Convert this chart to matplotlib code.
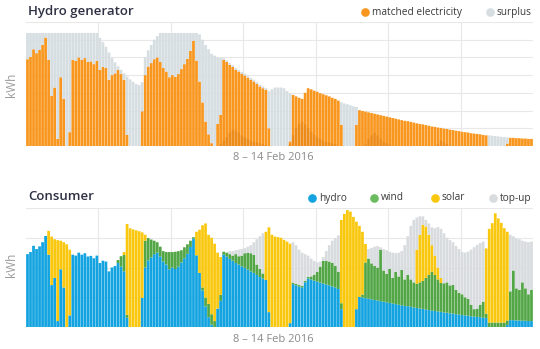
import matplotlib
matplotlib.use("Agg")
import matplotlib.pyplot as plt
from matplotlib.lines import Line2D
import numpy as np

plt.rcParams['font.family'] = ['Open Sans', 'DejaVu Sans']

# hourly values, 8-14 Feb 2016 (kWh), one row per day
matched = [
    2.45, 2.52, 2.73, 2.62, 2.71, 2.85, 3.06, 2.43, 1.41, 1.65, 0.2, 1.94, 1.33, 0, 0.39, 2.43, 2.4, 2.5, 2.43, 2.48, 2.37, 2.39, 2.31, 2.4,
    2.15, 2.23, 2.2, 1.87, 2.0, 2.05, 2.15, 2.03, 1.87, 0.31, 0, 0, 0, 0, 0.98, 2.0, 2.24, 2.34, 2.45, 2.5, 2.37, 2.2, 2.1, 1.94,
    2.0, 1.95, 2.03, 2.17, 2.31, 2.46, 2.69, 2.97, 2.41, 1.82, 1.23, 0.69, 0.33, 0.08, 0, 0.62, 0.88, 2.43, 2.37, 2.29, 2.23, 2.15, 2.1, 2.04,
    1.99, 1.93, 1.87, 1.82, 1.75, 1.68, 1.63, 1.58, 0.5, 0, 0, 0, 0, 0, 0, 0.13, 1.44, 1.4, 1.36, 1.33, 1.5, 1.63, 1.6, 1.56,
    1.53, 1.49, 1.46, 1.43, 1.4, 1.36, 1.33, 1.28, 0.6, 0, 0, 0, 0, 0.6, 1.01, 0.99, 0.97, 0.95, 0.93, 0.91, 0.89, 0.87, 0.85, 0.83,
    0.81, 0.79, 0.77, 0.75, 0.73, 0.71, 0.7, 0.68, 0.66, 0.64, 0.62, 0.61, 0.59, 0.57, 0.55, 0.54, 0.52, 0.51, 0.49, 0.48, 0.46, 0.45, 0.43, 0.42,
    0.4, 0.39, 0.38, 0.36, 0.35, 0.34, 0.33, 0.31, 0.3, 0, 0, 0, 0, 0, 0, 0.07, 0.23, 0.23, 0.22, 0.22, 0.21, 0.21, 0.2, 0.2,
]
surplus = [
    0.74, 0.67, 0.46, 0.57, 0.48, 0.34, 0.13, 0.76, 1.78, 1.54, 2.99, 1.25, 1.86, 3.19, 2.8, 0.76, 0.79, 0.69, 0.76, 0.71, 0.82, 0.8, 0.88, 0.79,
    0.9, 0.7, 0.6, 0.77, 0.48, 0.31, 0.1, 0.12, 0.18, 1.65, 1.88, 1.81, 1.75, 1.72, 0.82, 0.5, 0.46, 0.51, 0.55, 0.6, 0.82, 0.99, 1.09, 1.25,
    1.19, 1.24, 1.16, 1.02, 0.88, 0.73, 0.5, 0.22, 0.78, 1.33, 1.77, 2.16, 2.4, 2.52, 2.55, 1.88, 1.61, 0.05, 0.05, 0.05, 0.05, 0.05, 0.05, 0.05,
    0.05, 0.05, 0.05, 0.05, 0.05, 0.05, 0.05, 0.05, 1.05, 1.6, 1.65, 1.65, 1.65, 1.63, 1.55, 1.35, 0, 0, 0, 0, 0, 0, 0, 0,
    0, 0, 0, 0, 0, 0, 0, 0, 0.63, 1.2, 1.18, 1.15, 1.12, 0.5, 0, 0, 0, 0, 0, 0, 0, 0, 0, 0,
    0, 0, 0, 0, 0, 0, 0, 0, 0, 0, 0, 0, 0, 0, 0, 0, 0, 0, 0, 0, 0, 0, 0, 0,
    0, 0, 0, 0, 0, 0, 0, 0, 0, 0.3, 0.29, 0.28, 0.27, 0.26, 0.25, 0.17, 0, 0, 0, 0, 0, 0, 0, 0,
]
# darker band where generator bars overlap
overlap = [
    0] * 48 + [
    0, 0, 0, 0, 0, 0, 0, 0, 0, 0, 0, 0, 0, 0, 0, 0, 0.05, 0.15, 0.25, 0.38, 0.45, 0.43, 0.38, 0.3,
    0.25, 0.2, 0.15, 0.12, 0.1, 0.08, 0.05, 0.03, 0, 0, 0, 0, 0, 0, 0, 0.05, 0.3, 0.5, 0.62, 0.68, 0.6, 0.5, 0.4, 0.32,
    0.25, 0.2, 0.15, 0.12, 0.1, 0.07, 0.05, 0, 0, 0, 0, 0, 0, 0, 0, 0, 0.05, 0.2, 0.3, 0.37, 0.3, 0.2, 0.12, 0.08,
    0.04, 0, 0, 0, 0, 0, 0, 0, 0, 0, 0, 0, 0, 0, 0, 0, 0.05, 0.15, 0.1, 0.05, 0, 0, 0, 0,
] + [0] * 24

# consumer side: hydro share is the generator's matched output
hydro = matched
wind = [
    0] * 24 + [
    0, 0, 0, 0, 0, 0, 0.1, 0.35, 0.55, 0.1, 0, 0, 0, 0, 0, 0.9, 0.75, 0.6, 0.45, 0.35, 0.33, 0.35, 0.42, 0.58,
    0.52, 0.58, 0.52, 0.41, 0.37, 0.32, 0.21, 0.05, 0, 0, 0.1, 0.3, 0.45, 0.35, 0.2, 0, 0.2, 0.1, 0.13, 0.16, 0.17, 0.3, 0.28, 0.36,
    0.49, 0.57, 0.61, 0.6, 0.35, 0.27, 0.17, 0, 0, 0, 0, 0, 0, 0, 0, 0, 0.05, 0.05, 0.05, 0.05, 0.05, 0.05, 0.1, 0.2,
    0.33, 0.54, 0.76, 0.8, 0.8, 0.8, 0.72, 0.58, 0.2, 0, 0, 0, 0, 0, 0, 0.1, 1.2, 1.35, 1.21, 1.14, 1.11, 1.73, 1.05, 0.96,
    1.14, 0.86, 1.08, 0.95, 1.19, 0.89, 1.05, 0.92, 0.84, 0.81, 0.88, 0.94, 1.06, 1.18, 1.31, 1.21, 1.08, 0.97, 0.98, 1.02, 0.94, 0.97, 0.82, 0.73,
    0.7, 0.61, 0.57, 0.39, 0.25, 0.28, 0.42, 0.54, 0.15, 0.15, 0.15, 0.15, 0.15, 0.15, 0.15, 0.15, 0.97, 1.67, 1.08, 1.03, 1.29, 1.09, 0.9, 1.05,
]
solar = [
    0, 0, 0, 0, 0, 0, 0, 0.8, 1.63, 1.3, 2.72, 0.96, 1.52, 2.78, 2.21, 0, 0, 0, 0, 0, 0, 0, 0, 0,
    0, 0, 0, 0, 0, 0, 0, 0, 0.1, 3.05, 3.32, 3.28, 3.25, 3.22, 2.2, 0.2, 0, 0, 0, 0, 0, 0, 0, 0,
    0, 0, 0, 0, 0, 0, 0, 0, 0.79, 1.45, 2.09, 2.49, 2.32, 2.57, 2.6, 1.88, 1.27, 0, 0, 0, 0, 0, 0, 0,
    0, 0, 0, 0, 0, 0, 0, 1.62, 2.85, 3.1, 3.04, 3.02, 3.0, 2.93, 2.87, 2.67, 0, 0, 0, 0, 0, 0, 0, 0,
    0, 0, 0, 0, 0, 0, 0, 0, 2.8, 3.8, 3.93, 3.88, 3.7, 2.94, 2.39, 2.11, 0.62, 0, 0, 0, 0, 0, 0, 0,
    0, 0, 0, 0, 0, 0, 0, 0, 0, 1.15, 1.6, 1.88, 1.73, 1.35, 0.89, 0.65, 0.4, 0.17, 0, 0, 0, 0, 0, 0,
    0, 0, 0, 0, 0, 0, 0, 0, 2.19, 3.15, 3.34, 3.67, 3.5, 3.35, 3.17, 2.98, 0, 0, 0, 0, 0, 0, 0, 0,
]
topup = [
    0] * 48 + [
    0, 0, 0, 0, 0, 0, 0, 0, 0, 0, 0, 0, 0, 0, 0, 0, 0, 0, 0, 0.1, 0.15, 0.13, 0.22, 0.22,
    0.17, 0.2, 0.27, 0.43, 0.85, 1.1, 1.35, 0, 0, 0, 0, 0, 0, 0, 0, 0, 1.36, 1.3, 1.19, 1.12, 0.9, 0.72, 0.6, 0.46,
    0.31, 0.17, 0.13, 0.32, 0.55, 0.74, 0.93, 1.22, 0, 0, 0, 0, 0, 0, 0, 0, 0, 0.32, 0.52, 0.65, 0.72, 0.08, 0.72, 0.79,
    0.58, 0.85, 0.63, 0.8, 0.63, 1.15, 1.3, 1.8, 2.1, 1.08, 0.62, 0.29, 0.22, 0.38, 0.6, 0.92, 1.36, 1.65, 1.68, 1.5, 1.52, 1.43, 1.47, 1.47,
    1.42, 1.5, 1.58, 1.85, 2.08, 2.14, 2.07, 2.02, 0, 0, 0, 0, 0, 0, 0, 0, 1.9, 1.15, 1.68, 1.7, 1.4, 1.57, 1.75, 1.62,
]

date_label = "8 – 14 Feb 2016"

ORANGE = '#f8961e'
SURPLUS = '#d6dee2'
BLUE = '#12a3e0'
GREEN = '#52a646'
YELLOW = '#f9c80e'
TOPUP = '#d8dcde'
GRID = '#e8e8e8'
TITLE = '#2d3142'
MUTED = '#9a9a9a'

hours = np.arange(len(matched))
W = 0.9

fig = plt.figure(figsize=(5.40, 3.49), dpi=100)
ax1 = fig.add_axes([0.0481, 0.5817, 0.9389, 0.3553])
ax2 = fig.add_axes([0.0481, 0.0630, 0.9389, 0.3410])


def style_axes(ax, ymax, step):
    ax.set_xlim(-0.5, len(hours) - 0.5)
    ax.set_ylim(0, ymax)
    for y in np.arange(step, ymax + 1e-6, step):
        ax.axhline(y, color=GRID, lw=0.8, zorder=0)
    for d in range(24, len(hours), 24):
        ax.axvline(d - 0.5, color=GRID, lw=0.8, zorder=0)
    for s in ax.spines.values():
        s.set_visible(False)
    ax.set_xticks([])
    ax.set_yticks([])


def stack(ax, series, colors):
    bottom = np.zeros(len(hours))
    for vals, c in zip(series, colors):
        vals = np.asarray(vals, dtype=float)
        bars = ax.bar(hours, vals, W, bottom=bottom, color=c, linewidth=0, zorder=2)
        for b in bars:
            b.set_snap(False)
        bottom += vals


def legend(y, items):
    for x, label, c in items:
        fig.add_artist(Line2D([x / 540], [1 - y / 349], marker='o', ms=5.2, color=c,
                              lw=0, transform=fig.transFigure))
        fig.text((x + 7) / 540, 1 - y / 349, label, fontsize=7.3, color='#3a3a3a',
                 va='center', ha='left')


# generator
style_axes(ax1, 3.5, 0.5)
stack(ax1, [matched, surplus], [ORANGE, SURPLUS])
shade = ax1.bar(hours, overlap, W, color='#c8650a', alpha=0.22, linewidth=0, zorder=3)
for b in shade:
    b.set_snap(False)

# consumer
style_axes(ax2, 4.0, 1.0)
stack(ax2, [hydro, wind, solar, topup], [BLUE, GREEN, YELLOW, TOPUP])

fig.text(28 / 540, 1 - 12 / 349, "Hydro generator", fontsize=9.5, fontweight='semibold',
         color=TITLE, va='center', ha='left')
fig.text(28 / 540, 1 - 196.5 / 349, "Consumer", fontsize=9.5, fontweight='semibold',
         color=TITLE, va='center', ha='left')

legend(12, [(365, "matched electricity", ORANGE), (490, "surplus", SURPLUS)])
legend(198, [(312, "hydro", BLUE), (374, "wind", '#6bbb5f'),
             (435, "solar", YELLOW), (493, "top-up", TOPUP)])

for yc in (85, 265):
    fig.text(11.5 / 540, 1 - yc / 349, "kWh", fontsize=8.5, color=MUTED, rotation=90,
             va='center', ha='center')
for yc in (157, 340):
    fig.text(273 / 540, 1 - yc / 349, date_label, fontsize=8, color='#8a8a8a',
             va='center', ha='center')

fig.savefig("out.png", dpi=100)
